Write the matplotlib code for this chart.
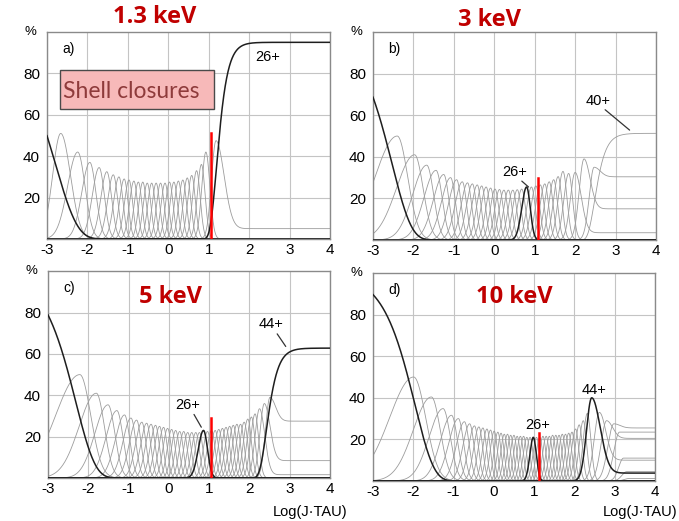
import numpy as np
import matplotlib
matplotlib.use("Agg")
import matplotlib.pyplot as plt
from matplotlib.patches import Rectangle

plt.rcParams["font.family"] = ["Liberation Sans", "DejaVu Sans"]
plt.rcParams["axes.unicode_minus"] = False

# ---------------- data ----------------
# x = Log(J*TAU), y = %.  Gray charge-state curves: peak position, peak height,
# left / right widths.  "tail" curves settle on a plateau at large J*TAU.
panel_tags = ["a)", "b)", "c)", "d)"]
energies = ["1.3 keV", "3 keV", "5 keV", "10 keV"]

# initial (lowest) charge state: falling edge (x0, w, height)
init_x0 = [-2.80, -2.53, -2.31, -1.96]
init_w = [0.55, 0.48, 0.48, 0.47]

# panel a
a_x = [-2.66, -2.24, -1.94, -1.71, -1.52, -1.36, -1.22, -1.09, -0.97, -0.85,
       -0.74, -0.63, -0.52, -0.41, -0.30, -0.19, -0.08, 0.03, 0.14, 0.25,
       0.36, 0.47, 0.58, 0.70, 0.82, 0.93]
a_h = [51, 42, 37, 34.5, 32.5, 31, 30, 29, 28.5, 28,
       27.5, 27.5, 27, 27, 27, 27, 27, 27.5, 27.5, 28,
       28.5, 29.5, 30.7, 33, 36, 42]
a_wl = [0.20, 0.25, 0.20, 0.17, 0.15, 0.14, 0.13, 0.12, 0.115, 0.11,
        0.105, 0.10, 0.10, 0.10, 0.10, 0.10, 0.10, 0.10, 0.10, 0.10,
        0.10, 0.10, 0.10, 0.10, 0.10, 0.10]
a_wr = [0.24, 0.18, 0.15, 0.13, 0.12, 0.11, 0.10, 0.095, 0.09, 0.09,
        0.09, 0.09, 0.09, 0.09, 0.09, 0.09, 0.09, 0.09, 0.09, 0.09,
        0.09, 0.09, 0.09, 0.09, 0.09, 0.10]
a_tx, a_th, a_twl, a_twr, a_tpl = [1.18], [47.5], [0.11], [0.20], [5.0]

# panel b
b_x = [-2.40, -1.97, -1.67, -1.44, -1.25, -1.08, -0.93, -0.79, -0.66, -0.54,
       -0.42, -0.31, -0.20, -0.09, 0.02, 0.13, 0.24, 0.35, 0.46, 0.57,
       0.68, 0.92, 1.03, 1.14, 1.25, 1.36, 1.47, 1.58, 1.70, 1.84]
b_h = [50, 41, 36, 33.5, 31.5, 30, 29, 28, 27.5, 27,
       26.5, 26, 25.5, 25, 24.5, 24.3, 24, 24, 24, 24.2,
       24.5, 25.5, 26, 26.5, 27, 28, 29, 30.5, 33, 32]
b_wl = [0.55, 0.45, 0.35, 0.30, 0.26, 0.23, 0.20, 0.18, 0.16, 0.15,
        0.14, 0.13, 0.13, 0.12, 0.12, 0.12, 0.12, 0.12, 0.12, 0.12,
        0.12, 0.12, 0.12, 0.12, 0.12, 0.12, 0.12, 0.12, 0.12, 0.12]
b_wr = [0.26, 0.21, 0.17, 0.15, 0.13, 0.12, 0.11, 0.105, 0.10, 0.10,
        0.095, 0.095, 0.095, 0.095, 0.095, 0.095, 0.095, 0.095, 0.095, 0.095,
        0.095, 0.095, 0.095, 0.095, 0.095, 0.095, 0.095, 0.095, 0.10, 0.10]
b_tx, b_th = [2.00, 2.22, 2.47], [32.5, 39, 35]
b_twl, b_twr, b_tpl = [0.12, 0.12, 0.12], [0.15, 0.15, 0.15], [3.5, 15, 30.4]

# panel c
c_x = [-2.21, -1.80, -1.51, -1.29, -1.10, -0.94, -0.80, -0.67, -0.55, -0.44,
       -0.33, -0.23, -0.13, -0.03, 0.07, 0.17, 0.27, 0.37, 0.47, 0.57,
       0.67, 0.76, 0.96, 1.06, 1.15, 1.24, 1.33, 1.42, 1.51, 1.60,
       1.69, 1.78, 1.87, 1.96, 2.05, 2.14]
c_h = [50, 41, 35.4, 32.6, 30.5, 29, 28, 27, 26.5, 26,
       25.5, 25, 24.5, 24, 23.5, 23, 22.5, 22.5, 22, 22,
       22, 22, 22.5, 23, 23, 23.5, 24, 24.5, 25, 25.5,
       26, 26, 27, 28.5, 29.5, 31]
c_wl = [0.60, 0.43, 0.33, 0.27, 0.23, 0.20, 0.18, 0.16, 0.15, 0.14,
        0.13, 0.125, 0.12, 0.115, 0.11, 0.11, 0.11, 0.11, 0.11, 0.11,
        0.11, 0.11, 0.11, 0.11, 0.11, 0.11, 0.11, 0.11, 0.11, 0.11,
        0.11, 0.11, 0.11, 0.11, 0.11, 0.11]
c_wr = [0.27, 0.20, 0.17, 0.15, 0.13, 0.12, 0.11, 0.105, 0.10, 0.10,
        0.095, 0.09, 0.09, 0.09, 0.09, 0.09, 0.09, 0.09, 0.09, 0.09,
        0.09, 0.09, 0.09, 0.09, 0.09, 0.09, 0.09, 0.09, 0.09, 0.09,
        0.09, 0.09, 0.09, 0.09, 0.09, 0.09]
c_tx, c_th = [2.25, 2.37, 2.51], [33.5, 36, 39]
c_twl, c_twr, c_tpl = [0.11, 0.11, 0.11], [0.13, 0.14, 0.14], [1.6, 8.4, 27.5]

# panel d
d_x = [-1.99, -1.55, -1.26, -1.05, -0.88, -0.73, -0.60, -0.48, -0.37, -0.27,
       -0.17, -0.08, 0.01, 0.10, 0.18, 0.26, 0.34, 0.42, 0.50, 0.58,
       0.66, 0.74, 0.82, 0.90, 1.06, 1.14, 1.22, 1.30, 1.38, 1.46,
       1.54, 1.62, 1.70, 1.78, 1.86, 1.94, 2.03, 2.12, 2.22, 2.32]
d_h = [50, 40.4, 34.8, 31.6, 30, 28.5, 27.5, 26.5, 26, 25.5,
       25, 24.5, 24, 23.5, 23, 22.5, 22.5, 22, 22, 21.5,
       21.5, 21.5, 21, 21, 21, 21, 21.5, 21.5, 21.5, 22,
       22, 22, 22.5, 22.5, 23, 23.5, 25, 27, 29, 32.5]
d_wl = [0.60, 0.45, 0.35, 0.28, 0.24, 0.20, 0.17, 0.15, 0.13, 0.12,
        0.11, 0.105, 0.10, 0.095, 0.09, 0.09, 0.09, 0.09, 0.09, 0.09,
        0.09, 0.09, 0.09, 0.09, 0.09, 0.09, 0.09, 0.09, 0.09, 0.09,
        0.09, 0.09, 0.09, 0.09, 0.09, 0.09, 0.10, 0.10, 0.10, 0.10]
d_wr = [0.30, 0.22, 0.18, 0.15, 0.13, 0.12, 0.11, 0.10, 0.095, 0.09,
        0.085, 0.08, 0.08, 0.08, 0.075, 0.075, 0.075, 0.075, 0.075, 0.075,
        0.075, 0.075, 0.075, 0.075, 0.075, 0.075, 0.075, 0.075, 0.075, 0.075,
        0.075, 0.075, 0.075, 0.075, 0.075, 0.075, 0.08, 0.08, 0.085, 0.09]
d_tx = [2.62, 2.80, 2.98, 3.12, 3.22, 3.30, 3.36]
d_th = [33, 29, 27.5, 23.5, 11, 4.5, 1.2]
d_twl = [0.13, 0.14, 0.15, 0.14, 0.12, 0.12, 0.12]
d_twr = [0.16, 0.15, 0.15, 0.10, 0.10, 0.10, 0.10]
d_tpl = [10, 20.5, 25.5, 23.5, 11, 4.5, 1.2]

# highlighted (black) charge states: 26+ and 44+
a_bx, a_bh, a_bwl, a_bwr, a_bpl = [], [], [], [], []
b_bx, b_bh, b_bwl, b_bwr, b_bpl = [0.80], [25.5], [0.12], [0.09], [0]
c_bx, c_bh, c_bwl, c_bwr, c_bpl = [0.86], [23], [0.13], [0.10], [0]
d_bx, d_bh, d_bwl, d_bwr, d_bpl = [0.98, 2.43], [21, 40], [0.085, 0.13], [0.075, 0.21], [0, 3.8]

# final equilibrium charge state: rising edge (x0, w, plateau, bold?)
rise_x0 = [1.193, 2.48, 2.42, None]
rise_w = [0.156, 0.16, 0.165, None]
rise_top = [95, 51.3, 62.8, None]
rise_bold = [True, False, True, False]

# red marker line
red_x = [1.05, 1.09, 1.04, 1.12]
red_top = [51, 30, 29, 23]

# charge-state labels: (text, text x, text y, arrow-to x, arrow-to y)
a_labels = [("26+", 2.47, 88, None, None)]
b_labels = [("26+", 0.51, 32.7, 0.90, 24.6), ("40+", 2.57, 67, 3.40, 52)]
c_labels = [("26+", 0.47, 35.4, 0.84, 23.4), ("44+", 2.53, 74.3, 2.94, 62.5)]
d_labels = [("26+", 1.09, 26.9, None, None), ("44+", 2.48, 43.7, None, None)]

# ---------------- drawing ----------------
xs = np.linspace(-3, 4, 1600)


def bump(xp, h, wl, wr, pl=0.0):
    left = h * np.exp(-(xs - xp) ** 2 / (2 * wl ** 2))
    right = pl + (h - pl) * np.exp(-(xs - xp) ** 2 / (2 * wr ** 2))
    return np.where(xs < xp, left, right)


panels = [
    (a_x, a_h, a_wl, a_wr, a_tx, a_th, a_twl, a_twr, a_tpl,
     a_bx, a_bh, a_bwl, a_bwr, a_bpl, a_labels),
    (b_x, b_h, b_wl, b_wr, b_tx, b_th, b_twl, b_twr, b_tpl,
     b_bx, b_bh, b_bwl, b_bwr, b_bpl, b_labels),
    (c_x, c_h, c_wl, c_wr, c_tx, c_th, c_twl, c_twr, c_tpl,
     c_bx, c_bh, c_bwl, c_bwr, c_bpl, c_labels),
    (d_x, d_h, d_wl, d_wr, d_tx, d_th, d_twl, d_twr, d_tpl,
     d_bx, d_bh, d_bwl, d_bwr, d_bpl, d_labels),
]

# axes boxes in figure fractions (left, bottom, width, height)
boxes = [(0.0692, 0.5413, 0.4168, 0.3973),
         (0.5493, 0.5393, 0.4168, 0.3992),
         (0.0707, 0.0825, 0.4153, 0.3970),
         (0.5493, 0.0768, 0.4153, 0.3992)]

GRAY = "#9c9c9c"
DARK = "#1e1e1e"

fig = plt.figure(figsize=(6.79, 5.21), dpi=100)

for i, (px, ph, pwl, pwr, tx, th, twl, twr, tpl,
        bx, bh, bwl, bwr, bpl, labels) in enumerate(panels):
    ax = fig.add_axes(boxes[i])
    ax.set_xlim(-3, 4)
    ax.set_ylim(0, 100)
    ax.set_xticks(range(-3, 5))
    ax.set_yticks([20, 40, 60, 80])
    ax.grid(True, color="#c4c4c4", lw=0.8)
    ax.set_axisbelow(True)
    ax.tick_params(length=0, labelsize=11, pad=3)
    ax.tick_params(axis="y", pad=5)
    for s in ax.spines.values():
        s.set_color("#8a8a8a")
        s.set_linewidth(1.0)

    for j in range(len(px)):
        ax.plot(xs, bump(px[j], ph[j], pwl[j], pwr[j]), color=GRAY, lw=0.6)
    for j in range(len(tx)):
        ax.plot(xs, bump(tx[j], th[j], twl[j], twr[j], tpl[j]), color=GRAY, lw=0.6)
    if rise_x0[i] is not None:
        yr = rise_top[i] * np.exp(-np.exp(-(xs - rise_x0[i]) / rise_w[i]))
        ax.plot(xs, yr, color=DARK if rise_bold[i] else GRAY,
                lw=1.1 if rise_bold[i] else 0.6, zorder=3)
    for j in range(len(bx)):
        ax.plot(xs, bump(bx[j], bh[j], bwl[j], bwr[j], bpl[j]), color=DARK, lw=1.1, zorder=3)
    y0 = 100 * np.exp(-np.exp((xs - init_x0[i]) / init_w[i]))
    ax.plot(xs, y0, color=DARK, lw=1.1, zorder=3)

    ax.plot([red_x[i], red_x[i]], [0, red_top[i]], color="#ff0000", lw=1.8, zorder=5)

    for text, lx, ly, ex, ey in labels:
        ax.text(lx, ly, text, fontsize=10.5, ha="center", va="center", zorder=6)
        if ex is not None:
            ax.annotate("", xy=(ex, ey), xytext=(lx + 0.12, ly - 3.5),
                        arrowprops=dict(arrowstyle="-", color="#333333", lw=0.9))

    ax.text(-2.62, 92, panel_tags[i], fontsize=10, ha="left", va="center")
    ax.text(-0.06, 1.0, "%", transform=ax.transAxes, fontsize=9.5,
            ha="center", va="center")

# energy titles
title_pos = [(0.2283, 0.9674), (0.7216, 0.9616), (0.2504, 0.430), (0.757, 0.430)]
for (tx_, ty_), e in zip(title_pos, energies):
    fig.text(tx_, ty_, e, color="#c00000", fontsize=17, fontweight="bold",
             family=["Open Sans", "DejaVu Sans"], ha="center", va="center")

# "Shell closures" box in panel a
fig.patches.append(Rectangle((0.0884, 0.7908), 0.2268, 0.0749, transform=fig.transFigure,
                             facecolor="#f7b9b9", edgecolor="#4a4a4a", lw=1.0, zorder=10))
fig.text(0.0928, 0.8253, "Shell closures", color="#8e3b3b", fontsize=16.5,
         family=["Lato", "DejaVu Sans"], ha="left", va="center", zorder=11)

# x-axis labels
fig.text(273 / 679, 0.0173, "Log(J\u00b7TAU)", fontsize=10.5, ha="left", va="center")
fig.text(677 / 679, 0.0173, "Log(J\u00b7TAU)", fontsize=10.5, ha="right", va="center")

fig.savefig("out.png", dpi=100)
